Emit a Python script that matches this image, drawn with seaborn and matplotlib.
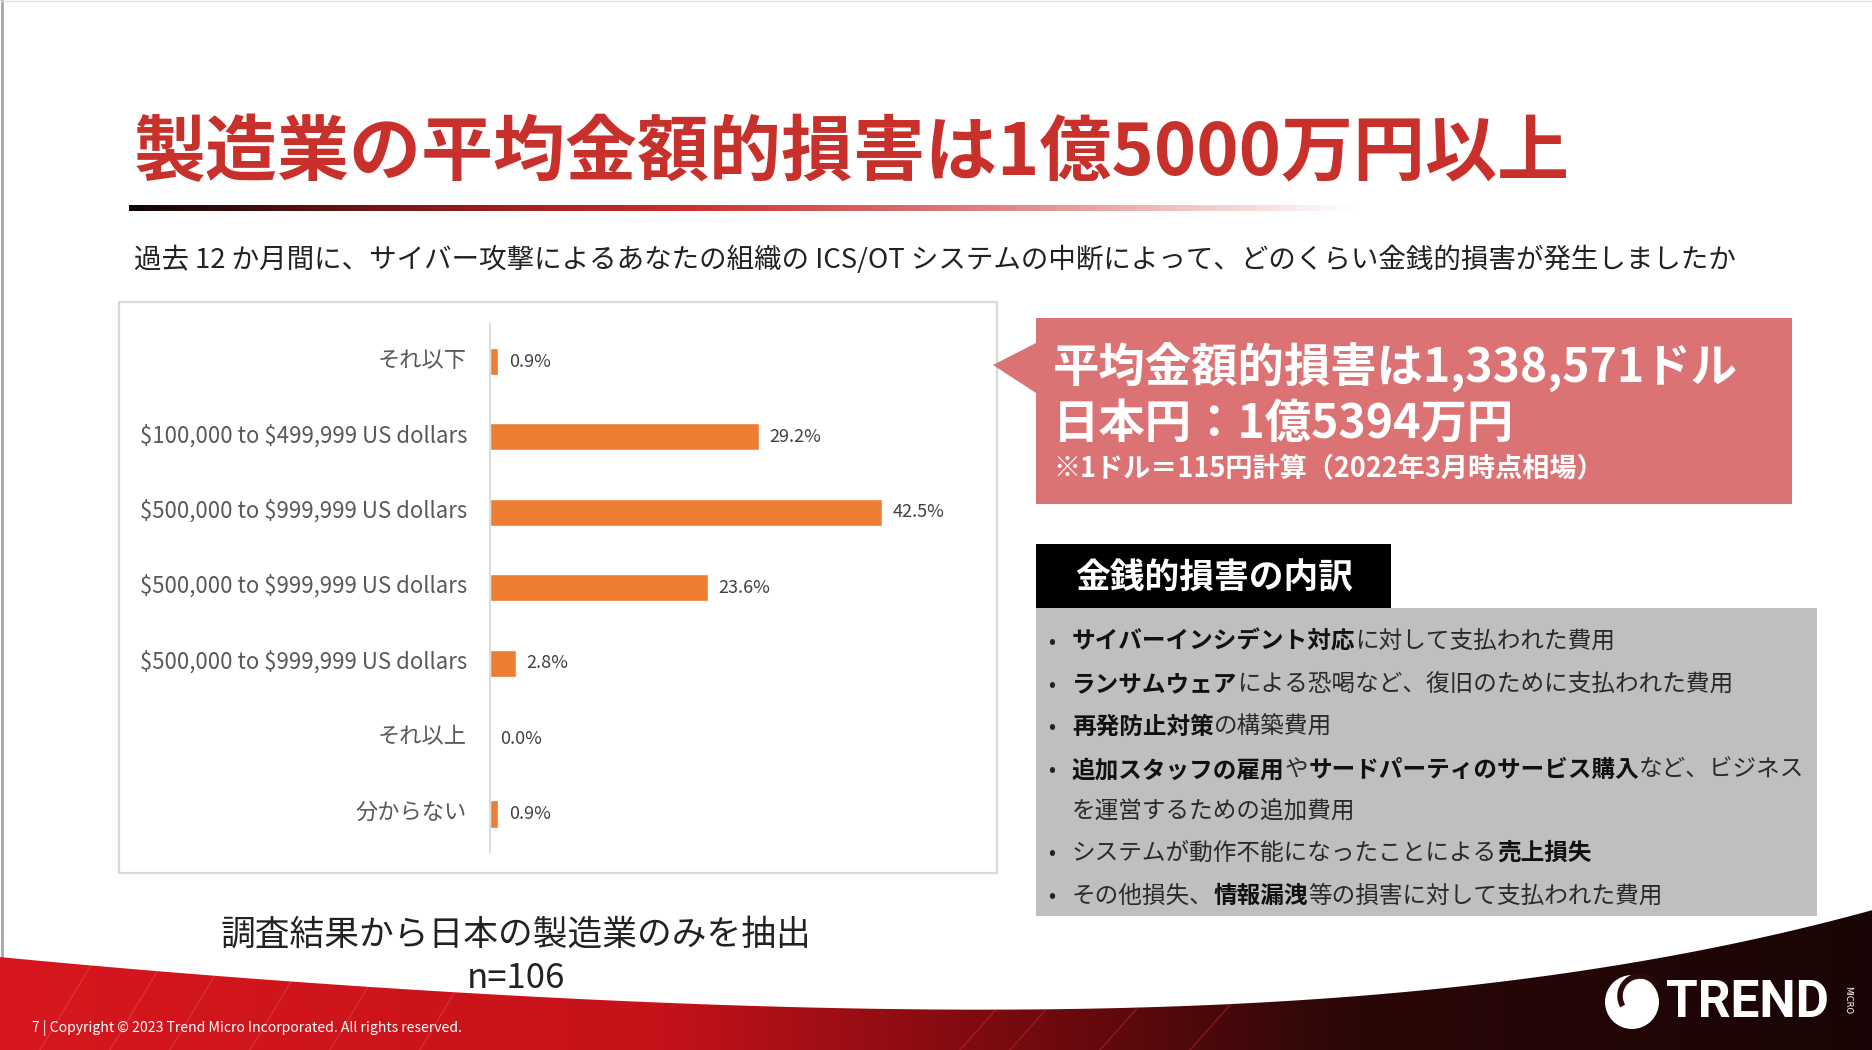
import numpy as np
import pandas as pd
import matplotlib
matplotlib.use("Agg")
import matplotlib.pyplot as plt
import seaborn as sns
from matplotlib.patches import Polygon, Rectangle, Circle, Arc
from matplotlib.transforms import ScaledTranslation

# ---------------- data ----------------
categories = [
    "それ以下",
    "$100,000 to $499,999 US dollars",
    "$500,000 to $999,999 US dollars",
    "$500,000 to $999,999 US dollars",
    "$500,000 to $999,999 US dollars",
    "それ以上",
    "分からない",
]
percent = [0.9, 29.2, 42.5, 23.6, 2.8, 0.0, 0.9]

title_text = "製造業の平均金額的損害は1億5000万円以上"
question_text = "過去 12 か月間に、サイバー攻撃によるあなたの組織の ICS/OT システムの中断によって、どのくらい金銭的損害が発生しましたか"
callout_lines = ["平均金額的損害は1,338,571ドル", "日本円：1億5394万円", "※1ドル＝115円計算（2022年3月時点相場）"]
breakdown_title = "金銭的損害の内訳"
breakdown_items = [
    [("サイバーインシデント対応", True), ("に対して支払われた費用", False)],
    [("ランサムウェア", True), ("による恐喝など、復旧のために支払われた費用", False)],
    [("再発防止対策", True), ("の構築費用", False)],
    [("追加スタッフの雇用", True), ("や", False), ("サードパーティのサービス購入", True), ("など、ビジネス", False)],
    [("を運営するための追加費用", False)],
    [("システムが動作不能になったことによる", False), ("売上損失", True)],
    [("その他損失、", False), ("情報漏洩", True), ("等の損害に対して支払われた費用", False)],
]
bullet_flags = [True, True, True, True, False, True, True]
footnote_lines = ["調査結果から日本の製造業のみを抽出", "n=106"]
copyright_text = "7 | Copyright © 2023 Trend Micro Incorporated. All rights reserved."

# ---------------- style ----------------
sns.set_theme(style="white")
FAM = ["Noto Sans CJK JP", "DejaVu Sans"]
plt.rcParams["font.family"] = FAM

W, H = 1872, 1050
fig = plt.figure(figsize=(W / 100, H / 100), dpi=100)
fig.patch.set_facecolor("white")

# background axes in pixel coordinates
bg = fig.add_axes([0, 0, 1, 1])
bg.set_xlim(0, W)
bg.set_ylim(H, 0)
bg.axis("off")
bg.set_zorder(0)

# slide borders
bg.plot([1.5, 1.5], [0, 960], color="#a6a6a6", lw=2)
bg.plot([0, W], [0.8, 0.8], color="#e0e0e0", lw=1)

# title
bg.text(134, 154, title_text, fontsize=51.8, fontweight="bold", color="#C8312B",
        ha="left", va="center", family=FAM)

# gradient underline
n = 600
pos = np.linspace(0, 1, n)
anchors = np.array([0.0, 0.25, 0.45, 0.7, 1.0])
cols = np.array([[0.05, 0.02, 0.02], [0.55, 0.10, 0.10], [0.78, 0.19, 0.18],
                 [0.88, 0.50, 0.50], [1.0, 1.0, 1.0]])
grad = np.stack([np.interp(pos, anchors, cols[:, k]) for k in range(3)], axis=-1)[None, :, :]
bg.imshow(grad, extent=[129, 1355, 211, 205], aspect="auto", interpolation="bilinear", zorder=2)

# question
bg.text(134, 260, question_text, fontsize=19.8, color="#222222", ha="left", va="center", family=FAM)

# chart frame
bg.add_patch(Rectangle((119, 302), 878, 571, fill=False, edgecolor="#D9D9D9", lw=1.6, zorder=1))

# ---------------- bar chart (seaborn) ----------------
px_per_pct = 9.22
ax_left, ax_right = 490, 990
ax_top, ax_bot = 323.8, 851.7
ax = fig.add_axes([ax_left / W, 1 - ax_bot / H, (ax_right - ax_left) / W, (ax_bot - ax_top) / H])
ax.set_zorder(3)
ax.patch.set_alpha(0)
df = pd.DataFrame({"pos": np.arange(len(categories)), "pct": percent})
sns.barplot(data=df, x="pct", y="pos", orient="h", color="#ED7D31", width=0.36,
            saturation=1, ax=ax)
ax.set_xlim(0, (ax_right - ax_left) / px_per_pct)
ax.set_ylim(len(categories) - 0.5, -0.5)
ax.set_xlabel("")
ax.set_ylabel("")
ax.set_xticks([])
ax.set_yticks(range(len(categories)))
ax.set_yticklabels([c.replace("$", r"\$") for c in categories])
ax.tick_params(axis="y", length=0, pad=16.5, labelsize=16, labelcolor="#595959")
for lbl in ax.get_yticklabels():
    lbl.set_family(FAM)
    lbl.set_transform(lbl.get_transform() + ScaledTranslation(0, 0.04, fig.dpi_scale_trans))
for s in ["top", "right", "bottom"]:
    ax.spines[s].set_visible(False)
ax.spines["left"].set_color("#D9D9D9")
ax.spines["left"].set_linewidth(1.3)
for cont in ax.containers:
    ax.bar_label(cont, labels=[f"{v:.1f}%" for v in percent], padding=7.5,
                 fontsize=13, color="#404040", family=FAM)

# ---------------- callout ----------------
callout = Polygon([(1036, 318), (1792, 318), (1792, 504), (1036, 504), (1036, 393),
                   (993, 365), (1036, 343)], closed=True, facecolor="#DB7274",
                  edgecolor="none", zorder=2)
bg.add_patch(callout)
bg.text(1053, 368, callout_lines[0], fontsize=33.4, fontweight="bold", color="white",
        ha="left", va="center", family=FAM, zorder=3)
bg.text(1053, 424, callout_lines[1], fontsize=33.4, fontweight="bold", color="white",
        ha="left", va="center", family=FAM, zorder=3)
bg.text(1053, 469, callout_lines[2], fontsize=19.5, fontweight="bold", color="white",
        ha="left", va="center", family=FAM, zorder=3)

# ---------------- breakdown box ----------------
bg.add_patch(Rectangle((1036, 544), 355, 64, facecolor="black", edgecolor="none", zorder=2))
bg.text(1075, 578, breakdown_title, fontsize=25, fontweight="bold", color="white",
        ha="left", va="center", family=FAM, zorder=3)
bg.add_patch(Rectangle((1036, 608), 781, 308, facecolor="#BFBFBF", edgecolor="none", zorder=2))

renderer = fig.canvas.get_renderer()
line_y = [642, 685, 727, 770, 811, 853, 896]
for y, parts, has_bullet in zip(line_y, breakdown_items, bullet_flags):
    if has_bullet:
        bg.text(1048, y, "•", fontsize=15, color="#222222", ha="left", va="center",
                family=FAM, zorder=3)
    cx = 1072
    for txt, bold in parts:
        t = bg.text(cx, y, txt, fontsize=17, fontweight="bold" if bold else "normal",
                    color="#111111" if bold else "#2a2a2a", ha="left", va="center",
                    family=FAM, zorder=3)
        cx += t.get_window_extent(renderer=renderer).width

# ---------------- footnote ----------------
bg.text(516, 935, footnote_lines[0], fontsize=25, color="#222222", ha="center", va="center", family=FAM)
bg.text(516, 978, footnote_lines[1], fontsize=25, color="#222222", ha="center", va="center", family=FAM)

# ---------------- bottom swoosh ----------------
cx_pts = np.array([0, 239, 478, 716, 955, 1194, 1433, 1612, 1731, 1872])
cy_pts = np.array([957, 978, 993, 1005, 1010, 1005, 990, 965, 945, 910])
coef = np.polyfit(cx_pts, cy_pts, 4)
xs = np.linspace(0, W, 300)
ys = np.polyval(coef, xs)
verts = list(zip(xs, ys)) + [(W, H), (0, H)]
clip = Polygon(verts, closed=True, transform=bg.transData, facecolor="none", edgecolor="none")
bg.add_patch(clip)
gpos = np.linspace(0, 1, 800)
ga = np.array([0.0, 0.35, 0.55, 0.72, 1.0])
gc = np.array([[0.84, 0.09, 0.12], [0.78, 0.07, 0.10], [0.45, 0.04, 0.06],
               [0.17, 0.03, 0.03], [0.10, 0.02, 0.02]])
band = np.stack([np.interp(gpos, ga, gc[:, k]) for k in range(3)], axis=-1)[None, :, :]
im = bg.imshow(band, extent=[0, W, H, 880], aspect="auto", interpolation="bilinear", zorder=4)
im.set_clip_path(clip)
# subtle streaks
for x0 in [40, 110, 170, 250, 330, 420]:
    ln, = bg.plot([x0, x0 + 60], [1050, 950], color="white", alpha=0.12, lw=1, zorder=5)
    ln.set_clip_path(clip)
for x0 in [1000, 1050, 1140, 1230]:
    ln, = bg.plot([x0 - 40, x0 + 40], [1050, 960], color="#e03030", alpha=0.35, lw=1.2, zorder=5)
    ln.set_clip_path(clip)

bg.text(32, 1028, copyright_text, fontsize=10.1, color="white", ha="left", va="center",
        family=FAM, zorder=6)

# logo
bg.add_patch(Circle((1632, 1002), 27, facecolor="white", edgecolor="none", zorder=6))
bg.add_patch(Arc((1640, 996), 40, 40, theta1=150, theta2=330, color="#2a0a0a", lw=4, zorder=7))
bg.text(1666, 1003, "TREND", fontsize=37, fontweight="bold", color="white", ha="left",
        va="center", family=["Roboto", "DejaVu Sans"], zorder=6)
bg.text(1848, 1000, "MICRO", fontsize=6, color="white", ha="center", va="center",
        rotation=270, family=["DejaVu Sans"], zorder=6)

fig.savefig("out.png", dpi=100)
